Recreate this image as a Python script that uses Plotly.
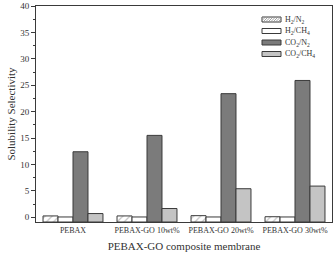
import plotly.graph_objects as go

categories = ["PEBAX", "PEBAX-GO 10wt%", "PEBAX-GO 20wt%", "PEBAX-GO 30wt%"]
series_names = ["H<sub>2</sub>/N<sub>2</sub>", "H<sub>2</sub>/CH<sub>4</sub>",
                "CO<sub>2</sub>/N<sub>2</sub>", "CO<sub>2</sub>/CH<sub>4</sub>"]
h2_n2 = [0.25, 0.25, 0.3, 0.1]
h2_ch4 = [0.05, 0.05, 0.05, 0.05]
co2_n2 = [12.4, 15.5, 23.4, 25.9]
co2_ch4 = [0.7, 1.65, 5.4, 5.9]
y_ticks = [0, 5, 10, 15, 20, 25, 30, 35, 40]

ymin, ymax = -0.9, 40

fills = ["white", "white", "#7b7b7b", "#c4c4c4"]
patterns = ["/", "", "", ""]
edge = "#3a3a3a"
font = "Liberation Serif, Times New Roman, serif"

W, H = 334, 254
ML, MR, MT, MB = 36, 2, 6, 32
PW, PH = W - ML - MR, H - MT - MB


def px(x):
    return (x - ML) / PW


def py(y):
    return (H - MB - y) / PH


fig = go.Figure()
for name, vals, fc, pat in zip(series_names, [h2_n2, h2_ch4, co2_n2, co2_ch4], fills, patterns):
    fig.add_trace(go.Bar(
        x=list(range(len(categories))),
        y=[v - ymin for v in vals],
        base=ymin,
        name=name,
        showlegend=False,
        marker=dict(color=fc, line=dict(color=edge, width=1),
                    pattern=dict(shape=pat, fgcolor="#8a8a8a", bgcolor="white", size=5, solidity=0.25)),
    ))

# custom legend (wide swatches, tight rows like the original)
shapes = []
annotations = []
row0, step = 19.5, 11.5
sx0, sx1, sh = 262, 281, 5
for i, (name, fc, pat) in enumerate(zip(series_names, fills, patterns)):
    cy = row0 + i * step
    shapes.append(dict(type="rect", xref="paper", yref="paper",
                       x0=px(sx0), x1=px(sx1), y0=py(cy + sh / 2), y1=py(cy - sh / 2),
                       fillcolor=fc, line=dict(color=edge, width=1), layer="above"))
    if pat == "/":
        xs = sx0 - 4
        while xs < sx1:
            a0, a1 = xs, xs + sh
            b0, b1 = cy + sh / 2, cy - sh / 2
            if a0 < sx0:
                b0 = b0 - (sx0 - a0)
                a0 = sx0
            if a1 > sx1:
                b1 = b1 + (a1 - sx1)
                a1 = sx1
            if a1 > a0:
                shapes.append(dict(type="line", xref="paper", yref="paper",
                                   x0=px(a0), x1=px(a1), y0=py(b0), y1=py(b1),
                                   line=dict(color="#8a8a8a", width=0.8), layer="above"))
            xs += 2.5
    annotations.append(dict(xref="paper", yref="paper", x=px(sx1 + 1.5), y=py(cy),
                            xanchor="left", yanchor="middle", showarrow=False, text=name,
                            font=dict(family=font, size=8, color="#333333")))

fig.update_layout(
    width=W, height=H,
    margin=dict(l=ML, r=MR, t=MT, b=MB),
    paper_bgcolor="white", plot_bgcolor="white",
    barmode="group", bargap=0.19, bargroupgap=0,
    font=dict(family=font, size=9, color="#333333"),
    showlegend=False,
    shapes=shapes,
    annotations=annotations,
    xaxis=dict(tickmode="array", tickvals=list(range(len(categories))), ticktext=categories,
               range=[-0.5, 3.5], showline=True, linecolor=edge, linewidth=1, mirror=True,
               ticks="", tickfont=dict(size=8, family=font, color="#333333"),
               title=dict(text="PEBAX-GO composite membrane", font=dict(size=11, family=font, color="#333333"),
                          standoff=8)),
    yaxis=dict(range=[ymin, ymax], tickvals=y_ticks,
               showline=True, linecolor=edge, linewidth=1, mirror=True,
               ticks="outside", ticklen=4, tickcolor=edge, showgrid=False, zeroline=False,
               minor=dict(dtick=2.5, tick0=0, ticks="outside", ticklen=2, tickcolor=edge),
               tickfont=dict(size=9, family=font, color="#333333"),
               title=dict(text="Solubility Selectivity", font=dict(size=11, family=font, color="#333333"),
                          standoff=2)),
)

fig.write_html("out.html")
